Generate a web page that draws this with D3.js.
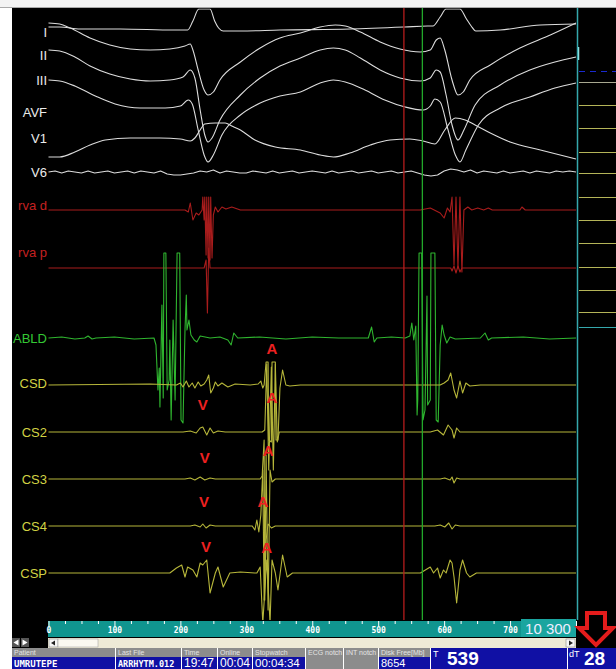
<!DOCTYPE html>
<html>
<head>
<meta charset="utf-8">
<script src="https://cdn.jsdelivr.net/npm/d3@7"></script>
<style>
  html, body { margin: 0; padding: 0; background: #fff; }
  svg { display: block; font-family: Arial, "Liberation Sans", sans-serif; }
</style>
</head>
<body>
<svg width="616" height="669"></svg>
<script>
// ---- recorded values: [time ms, amplitude] ----
const leadI = [[0,3],[17,3],[48,1],[109,1],[190,0],[211,0],[219,9],[228,21],[245,21],[252,9],[258,2],[265,-1],[291,-1],[351,0],[457,1],[540,3],[575,4],[583,4],[594,13],[603,21],[624,21],[633,12],[641,4],[648,-1],[685,0],[746,5],[800,6]];
const leadAVF = [[0,27],[17,26],[33,22],[63,12],[93,5],[124,1],[154,0],[184,1],[207,4],[215,6],[219,0],[227,-20],[236,-40],[242,-45],[250,-42],[260,-30],[291,-12],[321,2],[351,12],[382,17],[412,23],[435,25],[450,24],[473,18],[503,8],[533,1],[564,-2],[579,0],[588,10],[594,12],[601,0],[612,-30],[621,-45],[629,-42],[639,-30],[670,-15],[715,2],[761,15],[800,27]];
const leadII = [[0,30],[17,29],[40,23],[63,14],[93,6],[124,1],[154,-1],[184,0],[204,3],[215,10],[222,2],[230,-30],[237,-55],[242,-62],[248,-58],[260,-40],[291,-15],[321,2],[351,14],[382,22],[412,30],[432,32],[450,30],[473,22],[503,10],[533,2],[564,-1],[579,2],[588,10],[594,8],[603,-15],[612,-45],[621,-60],[630,-50],[647,-25],[685,-5],[730,10],[768,18],[800,23]];
const leadIII = [[0,28],[17,27],[40,22],[71,12],[101,4],[139,0],[177,0],[200,2],[212,8],[218,4],[227,-22],[236,-47],[242,-54],[250,-47],[263,-27],[291,-7],[321,5],[351,12],[382,16],[412,25],[432,28],[450,26],[480,18],[510,8],[541,1],[568,-2],[579,2],[586,9],[594,6],[606,-22],[617,-47],[624,-54],[633,-42],[652,-17],[685,0],[730,11],[768,20],[800,25]];
const leadV1 = [[0,-17],[17,-17],[40,-12],[63,-5],[86,0],[124,2],[169,2],[200,1],[215,-1],[222,2],[230,10],[237,16],[253,17],[268,17],[278,14],[291,10],[313,0],[344,-7],[382,-10],[412,-15],[432,-17],[457,-13],[488,-5],[518,0],[548,1],[568,-1],[586,-4],[601,10],[617,22],[632,20],[647,15],[670,7],[700,-2],[746,-10],[776,-15],[800,-19]];
// V6 sampled every 10 ms
const leadV6Step = 10;
const leadV6 = [0,1,-1,1,0,-1,1,-1,0,1, -1,0,1,-1,1,0,-1,1,-2,-3, -3,-2,-1,1,0,2,-1,1,0,-1, -1,1,0,-1,1,-1,0,1,-1,0, 1,0,-1,1,-1,0,1,-1,0,1, -1,0,1,-1,0,1,-1,-3,-4,-3, 1,3,2,0,2,-1,1,0,-1,1, -1,0,1,-1,1,0,-1,1,0,1,0];

const rvaD = [[0,0],[207,0],[212,-2],[215,7],[219,-10],[224,-3],[228,-5],[233,0],[234,13],[236,-10],[237,13],[239,-45],[240,13],[242,-48],[243,13],[245,-50],[246,13],[248,-48],[250,-5],[253,3],[257,-2],[263,3],[269,1],[278,3],[291,0],[564,0],[579,2],[594,-3],[600,-8],[605,2],[609,-2],[612,13],[615,-55],[618,13],[621,-58],[624,13],[627,-62],[630,0],[636,3],[642,0],[651,2],[660,0],[667,2],[673,0],[715,0],[718,3],[723,0],[800,0]];
const rvaP = [[0,0],[236,0],[239,8],[241,-45],[243,20],[245,0],[610,0],[612,-3],[615,2],[618,-5],[621,2],[624,-4],[627,0],[800,0]];
const abld = [[0,0],[20,1],[40,-1],[55,0],[60,2],[66,-1],[72,0],[100,1],[130,-1],[160,0],[163,-7],[166,-52],[168,-30],[169,-69],[172,33],[174,-60],[175,85],[178,85],[180,-52],[183,-42],[184,-2],[186,-82],[189,18],[192,-62],[195,85],[199,85],[201,-82],[204,-85],[207,8],[209,43],[210,8],[213,18],[216,3],[221,-2],[225,-4],[230,2],[245,0],[260,1],[272,-2],[277,-7],[281,5],[287,0],[320,1],[360,-1],[400,1],[440,0],[485,0],[490,11],[494,-4],[498,0],[520,1],[541,0],[548,2],[551,15],[554,-2],[557,12],[559,-77],[560,-62],[562,85],[566,85],[568,-82],[571,-72],[574,42],[575,-67],[579,-62],[580,85],[586,85],[588,-82],[591,-84],[594,-7],[597,13],[600,3],[604,-5],[609,1],[617,-1],[655,0],[662,5],[667,-2],[672,0],[720,1],[760,-1],[800,0]];
const csd = [[0,0],[154,1],[194,0],[200,2],[204,-2],[209,4],[213,-2],[218,2],[222,-3],[227,3],[231,-1],[236,1],[240,5],[243,10],[246,-8],[250,-3],[253,3],[257,-1],[263,2],[272,-2],[283,1],[306,0],[318,1],[322,4],[325,-3],[327,0],[330,23],[333,23],[334,-55],[338,-57],[339,23],[344,23],[345,-55],[348,-55],[351,-3],[355,15],[360,0],[366,-1],[382,0],[594,0],[600,2],[606,5],[610,12],[615,-5],[619,-13],[624,4],[628,-8],[633,2],[639,-1],[655,0],[800,0]];
const cs2 = [[0,0],[204,0],[215,1],[224,-1],[230,4],[234,5],[240,-3],[245,4],[250,-1],[257,1],[268,0],[324,0],[328,2],[331,68],[334,-38],[338,65],[341,-38],[344,68],[347,-10],[350,0],[579,0],[590,2],[599,-3],[606,7],[612,2],[615,-6],[619,4],[624,0],[800,0]];
const cs3 = [[0,0],[207,0],[215,1],[222,-1],[230,2],[237,-1],[245,1],[253,0],[321,0],[324,3],[327,39],[328,-121],[330,24],[333,-131],[336,9],[339,-3],[344,0],[594,0],[601,1],[609,-1],[612,2],[615,-4],[619,1],[624,0],[800,0]];
const cs4 = [[0,0],[215,0],[222,1],[230,-1],[234,2],[239,-2],[245,1],[253,0],[309,0],[313,-4],[316,6],[319,-6],[322,11],[325,56],[327,-74],[330,-14],[333,2],[338,-2],[344,0],[586,0],[594,1],[601,-1],[607,3],[612,-3],[617,1],[624,0],[800,0]];
const csp = [[0,0],[177,0],[184,0],[194,5],[202,8],[207,-4],[211,6],[219,3],[225,-4],[230,10],[234,8],[240,13],[245,-20],[253,0],[257,6],[265,-14],[275,0],[291,1],[313,0],[316,0],[321,6],[325,-50],[331,13],[336,-50],[339,13],[344,0],[348,-17],[355,18],[362,-4],[370,0],[564,0],[579,6],[584,0],[590,5],[594,-5],[599,3],[603,0],[609,13],[612,10],[615,-4],[619,-30],[624,3],[628,13],[634,0],[639,-4],[649,0],[800,0]];

const channelNames = ["I", "II", "III", "AVF", "V1", "V6", "rva d", "rva p", "ABLD", "CSD", "CS2", "CS3", "CS4", "CSP"];
const aMarkTimes = [339, 339, 333, 325, 331];   // CSD..CSP
const vMarkTimes = [234, 237, 236, 239];        // CS2..CSP
const cursorT = 539;
const cursorDT = 28;
const axisTicks = d3.range(0, 801, 25);
const gainText = "10 300";
const statusHeaders = ["Patient", "Last File", "Time", "Online", "Stopwatch", "ECG notch", "INT notch", "Disk Free[Mb]"];
const statusValues = ["UMRUTEPE", "ARRHYTM.012", "19:47", "00:04", "00:04:34", "", "", "8654"];

// ---- layout ----
const svg = d3.select("svg");
const W = 616, H = 669;
const plot = { left: 48, right: 577, top: 8.5, bottom: 620 };
const x = d3.scaleLinear().domain([0, 800]).range([48.5, 576]);

const C = {
  surface: "#dcdcdc", rva: "#a81c1c", rvaLabel: "#c42020",
  abl: "#2fb52f", ablLabel: "#34c834", cs: "#b6b63a", csLabel: "#d2d244",
  mark: "#ee2020", teal: "#10958f", cyan: "#35a8ad", blue: "#1010a4", gray: "#8c8c8c"
};

// channel traces: data, baseline, colour
const traces = [
  { name: "I", data: leadI, base: 30, color: C.surface, curve: d3.curveMonotoneX },
  { name: "AVF", data: leadAVF, base: 50, color: C.surface, curve: d3.curveMonotoneX },
  { name: "II", data: leadII, base: 80, color: C.surface, curve: d3.curveMonotoneX },
  { name: "III", data: leadIII, base: 108, color: C.surface, curve: d3.curveMonotoneX },
  { name: "V1", data: leadV1, base: 140, color: C.surface, curve: d3.curveMonotoneX },
  { name: "V6", data: leadV6.map((v, i) => [i * leadV6Step, v]), base: 172, color: C.surface, curve: d3.curveLinear },
  { name: "rva d", data: rvaD, base: 210, color: C.rva, curve: d3.curveLinear },
  { name: "rva p", data: rvaP, base: 268, color: C.rva, curve: d3.curveLinear },
  { name: "ABLD", data: abld, base: 338, color: C.abl, curve: d3.curveLinear },
  { name: "CSD", data: csd, base: 385, color: C.cs, curve: d3.curveLinear },
  { name: "CS2", data: cs2, base: 432, color: C.cs, curve: d3.curveLinear },
  { name: "CS3", data: cs3, base: 479, color: C.cs, curve: d3.curveLinear },
  { name: "CS4", data: cs4, base: 526, color: C.cs, curve: d3.curveLinear },
  { name: "CSP", data: csp, base: 573, color: C.cs, curve: d3.curveLinear }
];
const labelY = { "I": 32, "II": 55, "III": 80, "AVF": 112, "V1": 138, "V6": 172, "rva d": 205, "rva p": 252,
  "ABLD": 338, "CSD": 383, "CS2": 432, "CS3": 479, "CS4": 526, "CSP": 573 };
const labelColor = name => name.startsWith("rva") ? C.rvaLabel : name === "ABLD" ? C.ablLabel
  : name.startsWith("CS") ? C.csLabel : "#ececec";

const laneScale = base => d3.scaleLinear().domain([-100, 100]).range([base + 100, base - 100]);

// background
svg.append("rect").attr("width", W).attr("height", H).attr("fill", "#fff");
svg.append("rect").attr("x", 12).attr("y", 8).attr("width", W - 12).attr("height", 640).attr("fill", "#000");
svg.append("rect").attr("x", 0).attr("y", 0).attr("width", W).attr("height", 7).attr("fill", "#f3f3f3");
svg.append("line").attr("x1", 0).attr("x2", W).attr("y1", 7.5).attr("y2", 7.5).attr("stroke", "#a9a9a9");

svg.append("clipPath").attr("id", "plotClip")
  .append("rect").attr("x", plot.left).attr("y", plot.top)
  .attr("width", plot.right - plot.left).attr("height", plot.bottom - plot.top);

// right side panel
const side = svg.append("g");
[82, 105, 128, 152, 173, 197, 220, 243, 267, 290, 312].forEach((yy, i) => {
  side.append("line").attr("x1", 579).attr("x2", W).attr("y1", yy + 0.5).attr("y2", yy + 0.5)
    .attr("stroke", i === 0 ? "#a8a890" : "#b4b458").attr("stroke-width", 1.2);
});
side.append("line").attr("x1", 579).attr("x2", W).attr("y1", 327.5).attr("y2", 327.5).attr("stroke", C.cyan);
side.append("line").attr("x1", 579).attr("x2", W).attr("y1", 71.5).attr("y2", 71.5)
  .attr("stroke", "#1a2ad0").attr("stroke-dasharray", "6,5");
side.append("line").attr("x1", 578.5).attr("x2", 578.5).attr("y1", 47).attr("y2", 60).attr("stroke", "#a8f0f0").attr("stroke-width", 1.5);

// traces
const traceG = svg.append("g").attr("clip-path", "url(#plotClip)");
traces.forEach(tr => {
  const y = laneScale(tr.base);
  const line = d3.line().x(d => x(d[0])).y(d => y(d[1])).curve(tr.curve);
  traceG.append("path").datum(tr.data)
    .attr("d", line).attr("fill", "none")
    .attr("stroke", tr.color).attr("stroke-width", 1.1).attr("stroke-linejoin", "round");
});

// channel labels
svg.append("g").selectAll("text").data(channelNames).join("text")
  .attr("x", 47).attr("y", d => labelY[d]).attr("dy", "0.36em")
  .attr("text-anchor", "end").attr("font-size", 13)
  .attr("fill", labelColor).text(d => d);

// cursors
svg.append("line").attr("x1", x(cursorT)).attr("x2", x(cursorT)).attr("y1", 8).attr("y2", 620)
  .attr("stroke", "#b41c1c").attr("stroke-width", 1.3);
svg.append("line").attr("x1", x(cursorT + cursorDT)).attr("x2", x(cursorT + cursorDT)).attr("y1", 8).attr("y2", 620)
  .attr("stroke", "#22a82a").attr("stroke-width", 1.3);

// cyan border of the panel
svg.append("line").attr("x1", 577.5).attr("x2", 577.5).attr("y1", 8).attr("y2", 620)
  .attr("stroke", C.cyan).attr("stroke-width", 1.5);

// A / V annotations
const aLift = [36, 34, 28, 24, 25];
const vLift = [27, 21, 24, 26];
const csLanes = traces.filter(t => t.name.startsWith("CS"));
const markG = svg.append("g").attr("font-weight", "bold").attr("font-size", 15)
  .attr("fill", C.mark).attr("text-anchor", "middle");
aMarkTimes.forEach((t, i) => {
  markG.append("text").attr("x", x(t)).attr("y", csLanes[i].base - aLift[i]).attr("dy", "0.36em").text("A");
});
vMarkTimes.forEach((t, i) => {
  markG.append("text").attr("x", x(t)).attr("y", csLanes[i + 1].base - vLift[i]).attr("dy", "0.36em").text("V");
});

// time scale bar
svg.append("rect").attr("x", 48).attr("y", 621).attr("width", 528).attr("height", 16).attr("fill", C.teal);
const axisG = svg.append("g").attr("transform", "translate(0,621)")
  .call(d3.axisBottom(x).tickValues(axisTicks).tickSizeOuter(0)
    .tickFormat(d => (d % 100 === 0 && d < 800) ? d : ""));
axisG.select(".domain").remove();
axisG.selectAll(".tick line").attr("stroke", "#fff").attr("y2", d => d % 100 === 0 ? 5 : 3);
axisG.selectAll(".tick text").attr("fill", "#fff").attr("y", 6).attr("dy", "0.71em")
  .attr("font-family", "'DejaVu Sans Mono', monospace").attr("font-weight", "bold").attr("font-size", 8);
svg.append("rect").attr("x", 521).attr("y", 619).attr("width", 55).attr("height", 18).attr("fill", "#1aa59f");
svg.append("text").attr("x", 548).attr("y", 634).attr("text-anchor", "middle")
  .attr("font-size", 15).attr("fill", "#eef").text(gainText);

// red arrow
svg.append("path")
  .attr("d", "M587,613 L605,613 L605,628 L613,628 L596,645 L579,628 L587,628 Z")
  .attr("fill", "#000").attr("stroke", "#e41c1c").attr("stroke-width", 4).attr("stroke-linejoin", "miter");

// scroll bar
svg.append("rect").attr("x", 48).attr("y", 638).attr("width", 528).attr("height", 10).attr("fill", "#eeead6");
svg.append("rect").attr("x", 49).attr("y", 639).attr("width", 9).attr("height", 8).attr("fill", "#f6f6f6").attr("stroke", "#777").attr("stroke-width", 0.5);
svg.append("path").attr("d", "M51,643 L55,640.5 L55,645.5 Z").attr("fill", "#222");
svg.append("rect").attr("x", 58).attr("y", 639).attr("width", 40).attr("height", 8).attr("fill", "#faf8f0").attr("stroke", "#999").attr("stroke-width", 0.5);
svg.append("rect").attr("x", 566).attr("y", 639).attr("width", 9).attr("height", 8).attr("fill", "#f6f6f6").attr("stroke", "#777").attr("stroke-width", 0.5);
svg.append("path").attr("d", "M573,643 L569,640.5 L569,645.5 Z").attr("fill", "#222");
svg.append("rect").attr("x", 12).attr("y", 638).attr("width", 8).attr("height", 9).attr("fill", "#555");
svg.append("rect").attr("x", 21).attr("y", 638).attr("width", 8).attr("height", 9).attr("fill", "#555");
svg.append("path").attr("d", "M13.5,642.5 L18.5,639.5 L18.5,645.5 Z").attr("fill", "#fff");
svg.append("path").attr("d", "M27.5,642.5 L22.5,639.5 L22.5,645.5 Z").attr("fill", "#fff");

// status bar
const cellX = [12, 116, 182, 218, 253, 306, 344, 379, 431];
const status = svg.append("g");
statusHeaders.forEach((h, i) => {
  const x0 = cellX[i], w = cellX[i + 1] - x0 - 1;
  const notch = statusValues[i] === "";
  status.append("rect").attr("x", x0).attr("y", 648).attr("width", w).attr("height", notch ? 21 : 9).attr("fill", C.gray);
  if (!notch) status.append("rect").attr("x", x0).attr("y", 657).attr("width", w).attr("height", 12).attr("fill", C.blue);
  status.append("text").attr("x", x0 + 2).attr("y", 655).attr("font-size", 7).attr("fill", "#e4e4e4").text(h);
});
const valueFont = [
  { f: "'DejaVu Sans Mono', monospace", s: 9, w: "bold" },
  { f: "'DejaVu Sans Mono', monospace", s: 8.5, w: "bold" },
  { f: "Arial", s: 12, w: "normal" },
  { f: "Arial", s: 12, w: "normal" },
  { f: "Arial", s: 11.5, w: "normal" },
  null, null,
  { f: "Arial", s: 11, w: "normal" }
];
statusValues.forEach((v, i) => {
  if (!v) return;
  status.append("text").attr("x", cellX[i] + 2).attr("y", 666.5)
    .attr("font-family", valueFont[i].f).attr("font-size", valueFont[i].s).attr("font-weight", valueFont[i].w)
    .attr("fill", "#fff").text(v);
});
status.append("rect").attr("x", 431).attr("y", 648).attr("width", 136).attr("height", 21).attr("fill", C.blue);
status.append("rect").attr("x", 568).attr("y", 648).attr("width", 48).attr("height", 21).attr("fill", C.blue);
status.append("text").attr("x", 433).attr("y", 657).attr("font-size", 9).attr("fill", "#fff").text("T");
status.append("text").attr("x", 447).attr("y", 665).attr("font-size", 19).attr("font-weight", "bold").attr("fill", "#fff").text(cursorT);
status.append("text").attr("x", 569).attr("y", 657).attr("font-size", 9).attr("fill", "#fff").text("dT");
status.append("text").attr("x", 584).attr("y", 665).attr("font-size", 19).attr("font-weight", "bold").attr("fill", "#fff").text(cursorDT);
</script>
</body>
</html>
